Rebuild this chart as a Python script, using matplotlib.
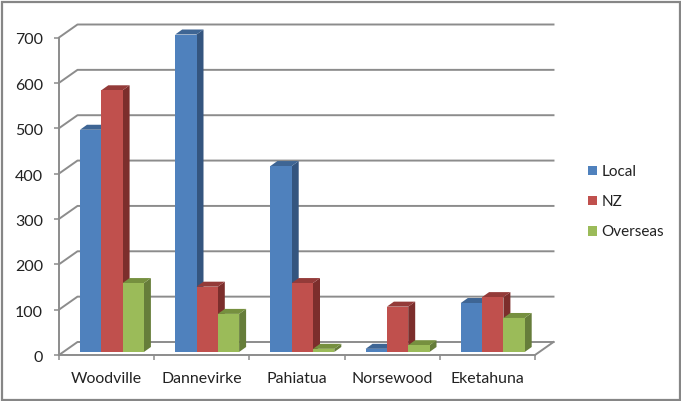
import matplotlib
matplotlib.use("Agg")
import matplotlib.pyplot as plt
from matplotlib.patches import Patch, Polygon, Rectangle
from matplotlib.transforms import ScaledTranslation

plt.rcParams['font.family'] = ['Lato', 'DejaVu Sans']

towns = ["Woodville", "Dannevirke", "Pahiatua", "Norsewood", "Eketahuna"]
local = [490, 700, 410, 7, 108]
nz = [577, 144, 152, 100, 121]
overseas = [152, 84, 7, 15, 75]
y_ticks = [0, 100, 200, 300, 400, 500, 600, 700]

series_names = ["Local", "NZ", "Overseas"]
front_cols = ["#4F81BD", "#C0504D", "#9BBB59"]
side_cols = ["#34557F", "#7C2E2C", "#667D3A"]
top_cols = ["#3E6594", "#943B39", "#76903F"]
grid_col = "#8C8C8C"
text_col = "#222222"

W, H = 681, 401
fig = plt.figure(figsize=(W / 100, H / 100), dpi=100)
fig.patch.set_facecolor("white")
ax = fig.add_axes([59 / W, (H - 355) / H, 476 / W, 317.5 / H])
ax.set_xlim(0, 5)
ax.set_ylim(0, 700)
ax.patch.set_visible(False)

# pixel sizes turned into data units
px_x = 5 / 476
px_y = 700 / 317.5

# outer frame
fig.add_artist(Rectangle((1.5 / W, 1.5 / H), 678 / W, 398 / H, fill=False,
                         edgecolor="#868686", linewidth=1.6,
                         transform=fig.transFigure))

# back wall and floor
wall_dx = 18.5 * px_x
wall_dy = 13 * px_y
for v in y_ticks:
    ax.plot([0, wall_dx, 5 + wall_dx], [v, v + wall_dy, v + wall_dy],
            color=grid_col, lw=1.4, clip_on=False, zorder=1)
ax.plot([5, 5 + wall_dx], [0, wall_dy], color=grid_col, lw=1.4,
        clip_on=False, zorder=1)

# 3d bars
bar_w = 21.3 * 5 / 476
shift = 21 * px_x
base = 3 * px_y
dep_x = 7 * px_x
dep_y = 5 * px_y
for s, vals in enumerate([local, nz, overseas]):
    for i, v in enumerate(vals):
        x0 = i + shift + s * bar_w
        x1 = x0 + bar_w
        y1 = base + v
        ax.add_patch(Polygon([(x1, base), (x1 + dep_x, base + dep_y),
                              (x1 + dep_x, y1 + dep_y), (x1, y1)],
                             facecolor=side_cols[s], edgecolor="none",
                             clip_on=False, zorder=3 + s))
        ax.add_patch(Polygon([(x0, y1), (x0 + dep_x, y1 + dep_y),
                              (x1 + dep_x, y1 + dep_y), (x1, y1)],
                             facecolor=top_cols[s], edgecolor="none",
                             clip_on=False, zorder=3 + s))
    ax.bar([i + shift + s * bar_w for i in range(5)], vals, bar_w, bottom=base,
           align="edge", color=front_cols[s], clip_on=False, zorder=3 + s)

# axes
for name in ["top", "right"]:
    ax.spines[name].set_visible(False)
for name in ["left", "bottom"]:
    ax.spines[name].set_color(grid_col)
    ax.spines[name].set_linewidth(1.4)
    ax.spines[name].set_zorder(2)
ax.set_yticks(y_ticks)
ax.set_xticks(range(6))
ax.set_xticklabels([])
ax.set_xticks([i + 0.5 for i in range(5)], minor=True)
ax.set_xticklabels(towns, minor=True)
ax.tick_params(axis="x", which="major", length=3.5, width=1.1, color=grid_col)
ax.tick_params(axis="x", which="minor", length=0, pad=12.5, labelsize=11.4,
               labelcolor=text_col)
ax.tick_params(axis="y", length=3.5, width=1.1, color=grid_col, pad=8,
               labelsize=11.5, labelcolor=text_col)
# y labels sit a little below their ticks
nudge = ScaledTranslation(0, -1.5 / 100, fig.dpi_scale_trans)
for lab in ax.get_yticklabels():
    lab.set_transform(lab.get_transform() + nudge)

handles = [Patch(facecolor=c, edgecolor="none") for c in front_cols]
fig.legend(handles, series_names, loc="center left",
           bbox_to_anchor=(576 / W, (H - 202) / H), frameon=False, fontsize=11,
           handlelength=0.6, handleheight=0.6, handletextpad=0.25,
           labelspacing=1.05, labelcolor=text_col, borderpad=0.3)

fig.savefig("out.png", dpi=100)
